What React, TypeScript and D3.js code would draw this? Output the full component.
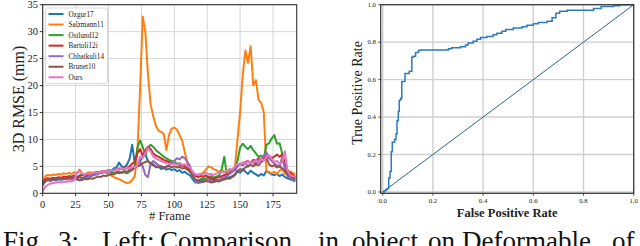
import React from "react";
import * as d3 from "d3";

// ---------- Left chart data (every 2nd frame: 0,2,...,192) ----------
const frames = d3.range(0, 193, 2);

const ozgur17 = [
  1.5, 2.2, 2.4, 2.3, 2.5, 2.4, 2.6, 2.5, 2.7, 2.6,
  2.8, 2.6, 2.9, 2.7, 3.0, 2.8, 3.0, 3.2, 3.1, 3.4,
  3.5, 3.6, 3.8, 3.9, 4.1, 4.3, 4.2, 4.6, 4.8, 5.7,
  5.0, 4.8, 5.3, 6.4, 9.0, 5.5, 5.2, 6.0, 6.8, 7.2,
  6.0, 5.5, 5.4, 4.8, 5.0, 4.5, 4.7, 4.4, 4.6, 4.3,
  4.5, 4.1, 4.3, 3.8, 4.0, 3.6, 3.3, 2.6, 2.0, 2.3,
  2.5, 2.4, 2.6, 2.8, 2.4, 2.3, 2.5, 2.4, 2.7, 2.6,
  2.8, 3.0, 3.2, 3.5, 4.2, 3.8, 4.5, 4.0, 3.6, 4.2,
  3.8, 3.5, 3.2, 3.6, 3.3, 4.2, 3.8, 3.5, 3.4, 3.6,
  3.2, 3.5, 3.0, 2.8, 2.6, 2.4, 2.2,
];
const salzmann11 = [
  2.0, 3.2, 3.4, 3.3, 3.5, 3.4, 3.6, 3.5, 3.7, 3.6,
  3.8, 3.6, 3.9, 3.7, 4.4, 3.6, 3.5, 3.8, 3.9, 3.7,
  3.8, 4.0, 3.9, 4.1, 3.8, 3.6, 3.3, 3.0, 2.8, 2.6,
  2.4, 2.1, 1.9, 2.0, 2.5, 3.2, 8.0, 19.5, 32.8, 30.0,
  22.0, 16.5, 14.3, 12.5, 11.6, 11.4, 11.0, 8.0, 10.8, 12.0,
  12.2, 11.8, 10.8, 9.8, 7.6, 5.5, 4.3, 3.6, 3.4, 3.5,
  3.6, 3.8, 4.4, 5.0, 4.8, 4.5, 4.3, 4.0, 4.2, 4.0,
  4.0, 4.3, 4.1, 4.6, 10.0, 15.0, 22.0, 26.5, 24.2, 27.3,
  20.0, 21.0, 17.3, 16.8, 15.0, 4.2, 3.9, 3.7, 4.0, 3.6,
  4.2, 4.6, 3.6, 4.2, 4.0, 3.8, 3.5,
];
const ostlund12 = [
  2.0, 2.5, 2.6, 2.5, 2.7, 2.6, 2.8, 2.7, 2.9, 2.8,
  3.0, 2.9, 3.1, 3.0, 3.3, 3.5, 3.4, 3.6, 3.5, 3.7,
  3.8, 3.7, 3.9, 4.0, 3.9, 4.1, 4.0, 3.8, 3.9, 4.0,
  3.8, 3.9, 3.7, 4.0, 4.3, 5.2, 8.5, 9.8, 8.6, 7.0,
  8.5, 9.0, 8.6, 8.0, 7.6, 7.2, 6.8, 6.5, 6.2, 6.0,
  5.8, 5.5, 5.6, 5.3, 5.0, 4.6, 4.0, 3.2, 2.5, 2.4,
  2.6, 2.8, 2.7, 3.0, 3.2, 2.9, 3.1, 3.3, 4.5, 6.8,
  3.2, 3.8, 4.2, 4.8, 6.0, 8.5, 9.2, 8.6, 8.2, 8.8,
  8.0, 7.4, 6.8, 7.0, 6.5, 9.0, 9.3, 10.2, 10.8, 9.2,
  9.3, 7.4, 5.0, 4.0, 3.5, 3.0, 2.8,
];
const bartoli12i = [
  2.0, 2.6, 2.8, 2.7, 2.9, 2.8, 3.0, 2.9, 3.1, 3.0,
  3.2, 3.1, 3.3, 3.0, 3.2, 3.4, 3.3, 3.5, 3.6, 3.7,
  3.8, 3.9, 4.0, 4.1, 4.0, 4.2, 4.1, 4.3, 4.4, 4.6,
  4.5, 4.8, 4.7, 5.0, 5.5, 5.8, 7.5, 8.2, 7.0, 8.0,
  8.6, 8.2, 7.4, 7.0, 6.8, 6.5, 6.2, 6.0, 5.8, 5.6,
  5.5, 5.4, 5.3, 5.1, 5.0, 4.8, 4.2, 3.6, 3.2, 3.0,
  3.2, 3.1, 3.3, 3.0, 2.8, 2.6, 2.9, 3.0, 3.2, 3.4,
  3.5, 3.8, 4.0, 4.3, 5.0, 5.5, 5.2, 5.8, 6.0, 5.6,
  6.2, 6.0, 6.5, 6.3, 6.8, 6.6, 7.0, 6.5, 6.8, 7.2,
  6.8, 7.2, 5.5, 4.2, 3.8, 3.4, 3.0,
];
const chhatkuli14 = [
  1.8, 2.3, 2.5, 2.4, 2.6, 2.5, 2.7, 2.6, 2.8, 2.7,
  2.9, 2.8, 3.0, 2.6, 2.4, 2.6, 2.8, 3.0, 3.2, 3.3,
  3.5, 3.6, 3.8, 3.9, 4.0, 4.2, 4.0, 4.3, 4.5, 4.4,
  4.6, 4.4, 4.7, 4.5, 4.3, 4.8, 5.2, 5.8, 5.0, 3.4,
  3.0, 5.5, 6.0, 5.6, 5.2, 5.0, 4.8, 5.0, 5.2, 5.6,
  6.0, 6.5, 6.3, 6.8, 6.5, 5.8, 5.0, 3.5, 2.2, 1.9,
  2.0, 2.2, 2.4, 2.6, 2.3, 2.1, 2.3, 2.5, 2.8, 3.0,
  3.2, 3.6, 4.0, 4.5, 5.0, 5.4, 5.2, 5.6, 5.0, 5.5,
  5.8, 5.2, 6.0, 6.5, 7.0, 7.6, 6.5, 6.0, 5.5, 5.2,
  5.0, 6.8, 4.5, 3.2, 2.8, 2.6, 2.5,
];
const brunet10 = [
  1.6, 2.3, 2.6, 2.5, 2.7, 2.6, 2.7, 2.8, 2.7, 2.9,
  2.8, 3.0, 2.9, 2.6, 2.4, 2.5, 2.7, 2.6, 2.8, 2.7,
  2.9, 3.1, 3.0, 3.3, 3.2, 3.4, 3.6, 3.5, 3.8, 3.7,
  3.9, 4.1, 4.0, 4.3, 4.5, 4.8, 5.0, 5.2, 5.6, 5.8,
  6.0, 5.5, 5.2, 5.0, 4.8, 5.0, 4.7, 4.9, 5.1, 4.8,
  5.0, 4.8, 4.9, 4.6, 4.7, 4.4, 4.0, 3.2, 2.6, 2.3,
  2.2, 2.1, 2.3, 2.2, 2.0, 2.1, 2.3, 2.2, 2.4, 2.6,
  2.8, 2.7, 3.0, 3.4, 4.0, 4.5, 4.2, 4.8, 5.0, 5.3,
  5.0, 5.6, 5.2, 5.8, 6.2, 6.5, 5.4, 5.0, 5.2, 4.8,
  5.0, 4.6, 4.2, 3.6, 3.2, 2.9, 2.6,
];
const ours = [
  0.4, 1.2, 1.6, 1.8, 1.9, 2.0, 2.1, 2.0, 2.2, 2.1,
  2.3, 2.2, 2.4, 3.8, 4.1, 3.6, 3.4, 3.7, 3.6, 3.8,
  3.9, 3.8, 4.0, 4.1, 4.0, 4.2, 4.3, 4.2, 4.5, 4.4,
  4.6, 4.5, 4.8, 4.6, 5.0, 4.8, 5.2, 6.8, 6.5, 7.5,
  8.4, 7.8, 6.8, 6.5, 6.2, 6.0, 5.8, 5.6, 5.5, 5.4,
  5.5, 5.3, 5.6, 5.2, 5.4, 5.0, 4.8, 4.0, 3.5, 3.4,
  3.5, 3.6, 3.8, 3.5, 3.6, 3.4, 3.7, 3.8, 4.0, 3.9,
  4.2, 4.5, 4.4, 5.0, 5.5, 5.2, 5.8, 5.5, 6.0, 5.6,
  5.8, 6.2, 5.5, 6.5, 6.0, 6.8, 7.0, 6.4, 5.8, 6.0,
  5.5, 5.8, 7.8, 4.2, 3.4, 3.2, 3.0,
];

const seriesNames = ["Ozgur17", "Salzmann11", "Ostlund12", "Bartoli12i", "Chhatkuli14", "Brunet10", "Ours"];
const seriesValues = [ozgur17, salzmann11, ostlund12, bartoli12i, chhatkuli14, brunet10, ours];
const seriesColors = ["#1f77b4", "#ff7f0e", "#2ca02c", "#d62728", "#9467bd", "#8c564b", "#e377c2"];

const xTicksLeft = [0, 25, 50, 75, 100, 125, 150, 175];
const yTicksLeft = [0, 5, 10, 15, 20, 25, 30, 35];

// ---------- Right chart data (ROC) ----------
const rocFpr = [
  0, 0.006, 0.012, 0.018, 0.024, 0.029, 0.034, 0.038, 0.047, 0.053,
  0.057, 0.062, 0.066, 0.072, 0.076, 0.089, 0.106, 0.116, 0.122, 0.131,
  0.142, 0.151, 0.262, 0.275, 0.31, 0.33, 0.34, 0.36, 0.375, 0.39,
  0.415, 0.44, 0.455, 0.475, 0.49, 0.52, 0.555, 0.575, 0.6, 0.62,
  0.655, 0.675, 0.69, 0.705, 0.735, 0.84, 0.87, 0.92, 0.945, 1.0,
];
const rocTpr = [
  0, 0.006, 0.012, 0.018, 0.075, 0.11, 0.215, 0.265, 0.28, 0.31,
  0.38, 0.43, 0.49, 0.5, 0.59, 0.633, 0.645, 0.72, 0.725, 0.745,
  0.755, 0.758, 0.765, 0.77, 0.775, 0.785, 0.795, 0.805, 0.815, 0.825,
  0.83, 0.84, 0.848, 0.858, 0.868, 0.875, 0.882, 0.89, 0.898, 0.905,
  0.912, 0.93, 0.955, 0.965, 0.97, 0.98, 0.99, 0.995, 1.0, 1.0,
];
const rocTicks = [0, 0.2, 0.4, 0.6, 0.8, 1.0];
const diagonal = [0, 1];

const captionWords = ["Fig.", "3:", "Left:", "Comparison", "in", "object", "on", "Deformable", "of"];

const FONT = "'Liberation Serif', 'Times New Roman', serif";

export default function App() {
  // left scales
  const xL = d3.scaleLinear().domain([0, 193]).range([42.7, 296.7]);
  const yL = d3.scaleLinear().domain([0, 35]).range([193.3, 4.7]);
  // right scales
  const xR = d3.scaleLinear().domain([-0.008, 1.0]).range([380.7, 633.7]);
  const yR = d3.scaleLinear().domain([-0.007, 1.0]).range([193.3, 4.7]);

  const lineL = d3
    .line<number>()
    .x((_, i) => xL(frames[i]))
    .y((d) => yL(d));

  const rocLine = d3
    .line<number>()
    .x((_, i) => xR(rocFpr[i]))
    .y((d) => yR(d))
    .curve(d3.curveStepAfter);

  const diagLine = d3
    .line<number>()
    .x((d) => xR(d))
    .y((d) => yR(d));

  const [lx0, lx1] = xL.range();
  const [ly0, ly1] = yL.range();
  const [rx0, rx1] = xR.range();
  const [ry0, ry1] = yR.range();

  const legendTop = 14;
  const legendStep = 10.55;

  // caption word x positions
  const captionX = [3, 58, 102, 160, 318, 352, 428, 462, 612];

  return (
    <svg
      width={640}
      height={246}
      style={{ position: "absolute", left: 0, top: 0, display: "block", background: "#fff" }}
      fontFamily={FONT}
    >
      <rect x={0} y={0} width={640} height={246} fill="#fff" />
      {/* ---------- LEFT CHART ---------- */}
      <g>
        {xTicksLeft.map((t) => (
          <line key={"gx" + t} x1={xL(t)} x2={xL(t)} y1={ly1} y2={ly0} stroke="#d6d6d6" strokeWidth={1} />
        ))}
        {yTicksLeft.map((t) => (
          <line key={"gy" + t} x1={lx0} x2={lx1} y1={yL(t)} y2={yL(t)} stroke="#d6d6d6" strokeWidth={1} />
        ))}
        {seriesValues.map((vals, si) => (
          <path
            key={seriesNames[si]}
            d={lineL(vals) || ""}
            fill="none"
            stroke={seriesColors[si]}
            strokeWidth={2}
            strokeLinejoin="round"
          />
        ))}
        <rect x={lx0} y={ly1} width={lx1 - lx0} height={ly0 - ly1} fill="none" stroke="#333" strokeWidth={1.1} />
        {xTicksLeft.map((t) => (
          <g key={"tx" + t}>
            <line x1={xL(t)} x2={xL(t)} y1={ly0} y2={ly0 + 3} stroke="#333" strokeWidth={1} />
            <text x={xL(t)} y={207.5} fontSize={10.5} textAnchor="middle" fill="#222">
              {t}
            </text>
          </g>
        ))}
        {yTicksLeft.map((t) => (
          <g key={"ty" + t}>
            <line x1={lx0 - 3} x2={lx0} y1={yL(t)} y2={yL(t)} stroke="#333" strokeWidth={1} />
            <text x={38} y={yL(t) + 3.6} fontSize={10.5} textAnchor="end" fill="#222">
              {t}
            </text>
          </g>
        ))}
        <text x={(lx0 + lx1) / 2} y={219.5} fontSize={12.5} textAnchor="middle" fill="#222">
          # Frame
        </text>
        <text
          transform={`translate(23.5, ${(ly0 + ly1) / 2}) rotate(-90)`}
          fontSize={16}
          textAnchor="middle"
          fill="#222"
        >
          3D RMSE (mm)
        </text>
        {/* legend */}
        <rect x={45.5} y={8} width={62} height={75.5} rx={2} fill="#fff" fillOpacity={0.9} stroke="#cfcfcf" strokeWidth={0.8} />
        {seriesNames.map((n, i) => (
          <g key={"lg" + n}>
            <line
              x1={48.5}
              x2={63.5}
              y1={legendTop + i * legendStep}
              y2={legendTop + i * legendStep}
              stroke={seriesColors[i]}
              strokeWidth={2}
            />
            <text x={68.5} y={legendTop + i * legendStep + 2.5} fontSize={7.2} fill="#222">
              {n}
            </text>
          </g>
        ))}
      </g>

      {/* ---------- RIGHT CHART ---------- */}
      <g>
        {rocTicks.map((t) => (
          <line key={"rgx" + t} x1={xR(t)} x2={xR(t)} y1={ry1} y2={ry0} stroke="#cfcfcf" strokeWidth={1.4} />
        ))}
        {rocTicks.map((t) => (
          <line key={"rgy" + t} x1={rx0} x2={rx1} y1={yR(t)} y2={yR(t)} stroke="#cfcfcf" strokeWidth={1.4} />
        ))}
        <path d={diagLine(diagonal) || ""} fill="none" stroke="#2b648a" strokeWidth={1} />
        <path d={rocLine(rocTpr) || ""} fill="none" stroke="#2c7bbf" strokeWidth={1.5} />
        <rect x={rx0} y={ry1} width={rx1 - rx0} height={ry0 - ry1} fill="none" stroke="#333" strokeWidth={1.2} />
        {rocTicks.map((t) => (
          <g key={"rtx" + t}>
            <line x1={xR(t)} x2={xR(t)} y1={ry0} y2={ry0 + 2.5} stroke="#333" strokeWidth={0.8} />
            <text x={xR(t)} y={202.5} fontSize={6.8} textAnchor="middle" fill="#222">
              {t.toFixed(1)}
            </text>
          </g>
        ))}
        {rocTicks.map((t) => (
          <g key={"rty" + t}>
            <line x1={rx0 - 2.5} x2={rx0} y1={yR(t)} y2={yR(t)} stroke="#333" strokeWidth={0.8} />
            <text x={376} y={yR(t) + 2.3} fontSize={6.8} textAnchor="end" fill="#222">
              {t.toFixed(1)}
            </text>
          </g>
        ))}
        <text x={(rx0 + rx1) / 2} y={216.5} fontSize={12.5} fontWeight="bold" textAnchor="middle" fill="#222">
          False Positive Rate
        </text>
        <text
          transform={`translate(362, ${(ry0 + ry1) / 2 - 6}) rotate(-90)`}
          fontSize={14}
          textAnchor="middle"
          fill="#222"
        >
          True Positive Rate
        </text>
      </g>

      {/* ---------- caption (cropped by the page edge) ---------- */}
      <text y={250} fontSize={27} fill="#111">
        {captionWords.map((w, i) => (
          <tspan key={"cw" + i} x={captionX[i]}>
            {w}
          </tspan>
        ))}
      </text>
    </svg>
  );
}
